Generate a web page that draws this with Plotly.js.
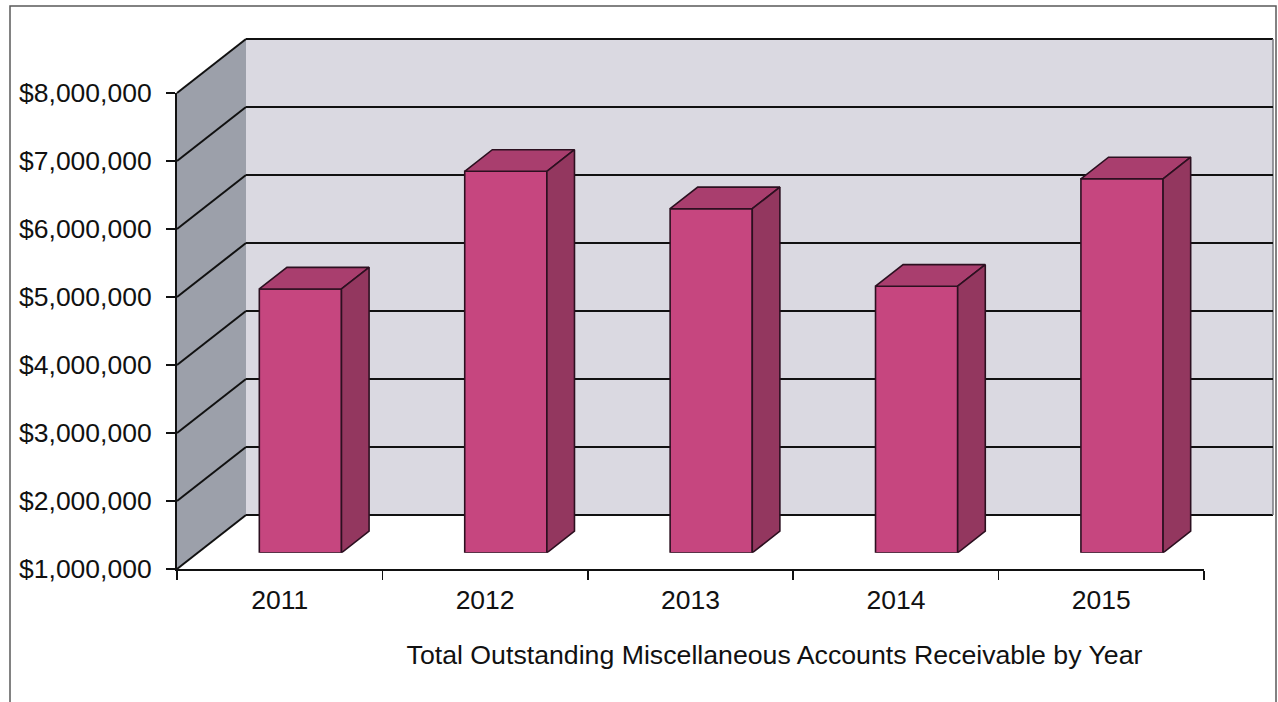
<!DOCTYPE html>
<html>
<head>
<meta charset="utf-8">
<script src="https://cdn.plot.ly/plotly-3.0.1.min.js"></script>
<style>
html,body{margin:0;padding:0;background:#ffffff;}
#chart{width:1278px;height:702px;}
</style>
</head>
<body>
<div id="chart"></div>
<script>
// ---------------- data ----------------
const years = ['2011', '2012', '2013', '2014', '2015'];
const amounts = [4880000, 6610000, 6060000, 4920000, 6500000];
const yTicks = [1000000, 2000000, 3000000, 4000000, 5000000, 6000000, 7000000, 8000000];
const chartTitle = 'Total Outstanding Miscellaneous Accounts Receivable by Year';

// ---------------- geometry (pixels) ----------------
const W = 1278, H = 702;
const FL = 177, FR = 1204, FT = 93, FB = 569;   // front plane of the 3D box
const DX = 69, DY = 54;                          // depth offset of the back wall
const BAR_D0 = 0.3, BAR_D = 0.4;                 // bar front offset / depth (fraction of box depth)
const BAR_W = 0.4;                               // bar width (fraction of category)
const yMin = 1000000, yMax = 8000000;
const nCat = years.length;

const FONT = 'Liberation Sans, Arial, Helvetica, sans-serif';
const INK = '#111111';
const C_FRONT = '#c6467f', C_TOP = '#a93e6e', C_SIDE = '#93375f', C_EDGE = '#2c1020';
const C_BACK = '#dad9e1', C_SIDEWALL = '#9ca0aa';

const px = x => x / W;
const py = y => 1 - y / H;

const pxPerCat = (FR - FL) / nCat;
const pxPerVal = (FB - FT) / (yMax - yMin);
const yFront = v => FB - (v - yMin) * pxPerVal;

const BOX = DX * BAR_D0, BOY = DY * BAR_D0;
const ddx = (DX * BAR_D) / pxPerCat;
const ddy = (DY * BAR_D) / pxPerVal;

const idx = years.map((_, i) => i);

// ---------------- traces ----------------
const traces = [];

// invisible trace: categories for the front axis
traces.push({
  type: 'scatter', mode: 'markers', x: years, y: amounts,
  xaxis: 'x', yaxis: 'y', marker: {opacity: 0}, hoverinfo: 'skip', showlegend: false
});
// invisible trace: makes the back-wall subplot exist (draws its gridlines)
traces.push({
  type: 'scatter', mode: 'markers', x: idx, y: amounts,
  xaxis: 'x2', yaxis: 'y2', marker: {opacity: 0}, hoverinfo: 'skip', showlegend: false
});

// bar front faces
traces.push({
  type: 'bar', x: idx, y: amounts.map(v => v - yMin), base: yMin,
  width: BAR_W, xaxis: 'x3', yaxis: 'y3',
  marker: {color: C_FRONT, line: {color: C_EDGE, width: 1.6}},
  hoverinfo: 'skip', showlegend: false
});

// bar top and side faces
amounts.forEach((v, i) => {
  const xl = i - BAR_W / 2, xr = i + BAR_W / 2;
  traces.push({
    type: 'scatter', mode: 'lines', fill: 'toself', fillcolor: C_TOP,
    x: [xl, xr, xr + ddx, xl + ddx, xl],
    y: [v, v, v + ddy, v + ddy, v],
    line: {color: C_EDGE, width: 1.6}, xaxis: 'x3', yaxis: 'y3',
    hoverinfo: 'skip', showlegend: false
  });
  traces.push({
    type: 'scatter', mode: 'lines', fill: 'toself', fillcolor: C_SIDE,
    x: [xr, xr, xr + ddx, xr + ddx, xr],
    y: [yMin, v, v + ddy, yMin + ddy, yMin],
    line: {color: C_EDGE, width: 1.6}, xaxis: 'x3', yaxis: 'y3',
    hoverinfo: 'skip', showlegend: false
  });
});

// ---------------- shapes (walls, side grid, frame) ----------------
const shapes = [];
shapes.push({type: 'rect', xref: 'paper', yref: 'paper', layer: 'below',
  x0: px(FL + DX), x1: px(FR + DX), y0: py(FB - DY), y1: py(FT - DY),
  fillcolor: C_BACK, line: {width: 0}});
shapes.push({type: 'path', xref: 'paper', yref: 'paper', layer: 'below',
  path: `M ${px(FL)} ${py(FT)} L ${px(FL + DX)} ${py(FT - DY)} L ${px(FL + DX)} ${py(FB - DY)} L ${px(FL)} ${py(FB)} Z`,
  fillcolor: C_SIDEWALL, line: {width: 0}});
yTicks.forEach(v => {
  const yf = yFront(v);
  shapes.push({type: 'line', xref: 'paper', yref: 'paper', layer: 'below',
    x0: px(FL), y0: py(yf), x1: px(FL + DX), y1: py(yf - DY),
    line: {color: INK, width: 2}});
});
[yMin, yMax].forEach(v => {
  const yb = yFront(v) - DY;
  shapes.push({type: 'line', xref: 'paper', yref: 'paper', layer: 'below',
    x0: px(FL + DX), y0: py(yb), x1: px(FR + DX), y1: py(yb),
    line: {color: INK, width: 2}});
});
shapes.push({type: 'line', xref: 'paper', yref: 'paper', layer: 'below',
  x0: px(FR + DX), y0: py(FT - DY), x1: px(FR + DX), y1: py(FB - DY),
  line: {color: '#7a7a80', width: 1.5}});
shapes.push({type: 'rect', xref: 'paper', yref: 'paper', layer: 'above',
  x0: px(10), x1: px(1276), y0: -0.02, y1: py(6),
  line: {color: '#5a5a5a', width: 1.5}, fillcolor: 'rgba(0,0,0,0)'});

// ---------------- layout ----------------
const hidden = {showgrid: false, zeroline: false, showline: false, showticklabels: false, ticks: '', fixedrange: true};

const layout = {
  width: W, height: H,
  margin: {l: 0, r: 0, t: 0, b: 0, pad: 0},
  paper_bgcolor: '#ffffff',
  plot_bgcolor: 'rgba(0,0,0,0)',
  showlegend: false,
  shapes: shapes,
  font: {family: FONT, color: INK, size: 26},
  title: {
    text: chartTitle, font: {family: FONT, size: 26.7, color: INK},
    x: px((407 + 1142) / 2), xanchor: 'center', xref: 'paper',
    y: py(655), yanchor: 'middle', yref: 'paper'
  },
  xaxis: {
    domain: [px(FL), px(FR)], anchor: 'y', type: 'category',
    categoryorder: 'array', categoryarray: years, range: [-0.5, nCat - 0.5],
    showgrid: false, zeroline: false, showline: true, linecolor: INK, linewidth: 2,
    ticks: 'outside', tickson: 'boundaries', ticklen: 9, tickwidth: 1.5, tickcolor: INK,
    tickfont: {family: FONT, size: 26.5, color: INK}, ticklabelstandoff: 6,
    automargin: false, fixedrange: true
  },
  yaxis: {
    domain: [py(FB), py(FT)], anchor: 'x', range: [yMin, yMax],
    tickmode: 'array', tickvals: yTicks, tickformat: '$,.0f',
    showgrid: false, zeroline: false, showline: true, linecolor: INK, linewidth: 2,
    ticks: 'outside', ticklen: 9, tickwidth: 1.5, tickcolor: INK,
    tickfont: {family: FONT, size: 26.5, color: INK}, ticklabelstandoff: 9,
    automargin: false, fixedrange: true
  },
  xaxis2: Object.assign({}, hidden, {domain: [px(FL + DX), px(FR + DX)], anchor: 'y2', range: [-0.5, nCat - 0.5]}),
  yaxis2: Object.assign({}, hidden, {
    domain: [py(FB - DY), py(FT - DY)], anchor: 'x2', range: [yMin, yMax],
    showgrid: true, gridcolor: INK, gridwidth: 2, tickmode: 'array', tickvals: yTicks
  }),
  xaxis3: Object.assign({}, hidden, {domain: [px(FL + BOX), px(FR + BOX)], anchor: 'y3', range: [-0.5, nCat - 0.5]}),
  yaxis3: Object.assign({}, hidden, {domain: [py(FB - BOY), py(FT - BOY)], anchor: 'x3', range: [yMin, yMax]}),
  bargap: 0
};

Plotly.newPlot('chart', traces, layout, {staticPlot: true, displayModeBar: false});
</script>
</body>
</html>
